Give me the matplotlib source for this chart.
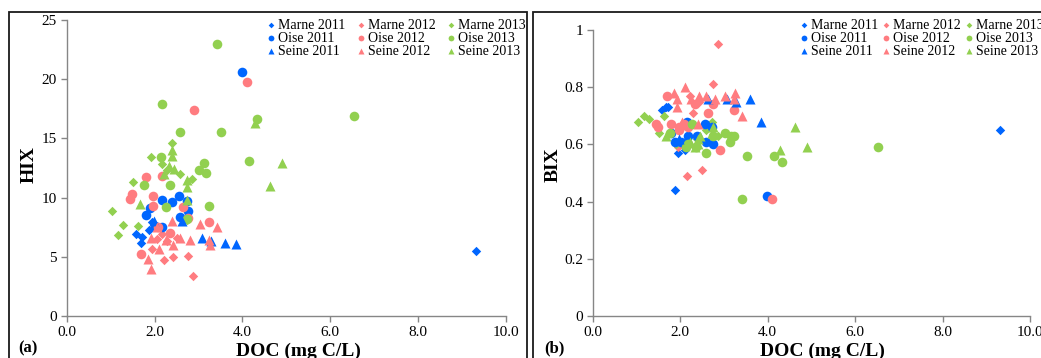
import matplotlib
matplotlib.use("Agg")
import matplotlib.pyplot as plt
from matplotlib.patches import Rectangle
from matplotlib.ticker import FuncFormatter

plt.rcParams['font.family'] = ['Liberation Serif', 'DejaVu Serif']

# ---------------- data (DOC in mg C/L, HIX, BIX) ----------------
marne11_doc = [1.58, 1.68, 1.72, 1.88, 1.95, 2.12, 9.32]
marne11_hix = [6.9, 6.2, 6.7, 7.3, 7.9, 7.5, 5.5]
marne11_bix = [0.72, 0.73, 0.73, 0.44, 0.57, 0.58, 0.65]

oise11_doc = [1.80, 1.89, 2.02, 2.16, 2.18, 2.39, 2.56, 2.58, 2.73, 2.75, 3.99]
oise11_hix = [8.5, 9.1, 7.6, 9.8, 7.5, 9.6, 10.1, 8.4, 9.7, 8.9, 20.6]
oise11_bix = [0.64, 0.61, 0.61, 0.68, 0.63, 0.63, 0.67, 0.61, 0.66, 0.60, 0.42]

seine11_doc = [1.98, 2.63, 3.08, 3.28, 3.60, 3.86]
seine11_hix = [8.0, 8.0, 6.6, 6.3, 6.2, 6.1]
seine11_bix = [0.62, 0.76, 0.76, 0.75, 0.76, 0.68]

marne12_doc = [1.95, 2.05, 2.16, 2.22, 2.29, 2.42, 2.50, 2.75, 2.87]
marne12_hix = [5.7, 6.5, 6.9, 4.7, 6.3, 5.0, 6.6, 5.1, 3.4]
marne12_bix = [0.59, 0.66, 0.49, 0.77, 0.71, 0.75, 0.51, 0.81, 0.95]

oise12_doc = [1.45, 1.49, 1.69, 1.80, 1.97, 1.97, 2.08, 2.17, 2.35, 2.64, 2.75, 2.90, 3.24, 4.11]
oise12_hix = [9.9, 10.3, 5.2, 11.7, 10.1, 9.3, 7.5, 11.8, 7.0, 9.2, 8.3, 17.4, 7.9, 19.8]
oise12_bix = [0.67, 0.66, 0.77, 0.67, 0.66, 0.65, 0.67, 0.66, 0.74, 0.71, 0.74, 0.58, 0.72, 0.41]

seine12_doc = [1.86, 1.92, 1.93, 2.05, 2.11, 2.25, 2.40, 2.42, 2.58, 2.80, 3.03, 3.24, 3.26, 3.41]
seine12_hix = [4.8, 4.0, 6.6, 7.5, 5.7, 6.4, 8.0, 6.0, 6.6, 6.4, 7.8, 6.4, 6.0, 7.5]
seine12_bix = [0.78, 0.73, 0.76, 0.68, 0.80, 0.76, 0.67, 0.77, 0.77, 0.76, 0.77, 0.76, 0.78, 0.70]

marne13_doc = [1.04, 1.17, 1.29, 1.52, 1.63, 1.91, 2.16, 2.28, 2.39, 2.58, 2.73, 2.86]
marne13_hix = [8.9, 6.8, 7.7, 11.3, 7.6, 13.4, 12.8, 12.3, 14.6, 12.0, 8.1, 11.6]
marne13_bix = [0.68, 0.70, 0.69, 0.64, 0.70, 0.60, 0.61, 0.67, 0.62, 0.65, 0.68, 0.63]

oise13_doc = [1.76, 2.14, 2.17, 2.26, 2.36, 2.58, 2.74, 3.02, 3.13, 3.16, 3.24, 3.41, 3.52, 4.14, 4.33, 6.53]
oise13_hix = [11.1, 13.4, 17.9, 9.2, 11.1, 15.5, 8.2, 12.3, 12.9, 12.1, 9.3, 23.0, 15.5, 13.1, 16.6, 16.9]
oise13_bix = [0.64, 0.59, 0.60, 0.67, 0.59, 0.57, 0.63, 0.64, 0.61, 0.63, 0.63, 0.41, 0.56, 0.56, 0.54, 0.59]

seine13_doc = [1.67, 2.22, 2.33, 2.40, 2.40, 2.45, 2.73, 2.74, 2.74, 4.28, 4.62, 4.90]
seine13_hix = [9.5, 12.0, 12.7, 13.5, 14.0, 12.4, 9.8, 10.9, 11.5, 16.3, 11.0, 12.9]
seine13_bix = [0.63, 0.61, 0.59, 0.60, 0.62, 0.63, 0.64, 0.66, 0.64, 0.58, 0.66, 0.59]

series_labels = ['Marne 2011', 'Marne 2012', 'Marne 2013',
                 'Oise 2011', 'Oise 2012', 'Oise 2013',
                 'Seine 2011', 'Seine 2012', 'Seine 2013']

# ---------------- styles ----------------
BLUE, PINK, GREEN = '#0066FF', '#FF7C80', '#92D050'
series = [
    (marne11_doc, marne11_hix, marne11_bix, BLUE, 'D', 23),
    (marne12_doc, marne12_hix, marne12_bix, PINK, 'D', 23),
    (marne13_doc, marne13_hix, marne13_bix, GREEN, 'D', 23),
    (oise11_doc, oise11_hix, oise11_bix, BLUE, 'o', 48),
    (oise12_doc, oise12_hix, oise12_bix, PINK, 'o', 48),
    (oise13_doc, oise13_hix, oise13_bix, GREEN, 'o', 48),
    (seine11_doc, seine11_hix, seine11_bix, BLUE, '^', 52),
    (seine12_doc, seine12_hix, seine12_bix, PINK, '^', 52),
    (seine13_doc, seine13_hix, seine13_bix, GREEN, '^', 52),
]

W, H = 1041, 358
fig = plt.figure(figsize=(W / 100, H / 100), dpi=100)

ax1 = fig.add_axes([66.7 / W, (H - 316) / H, (506 - 66.7) / W, (316 - 20) / H])
ax2 = fig.add_axes([592.7 / W, (H - 316) / H, (1030 - 592.7) / W, (316 - 30) / H])

GRAY = '#868686'


def style(ax, ylim, yticks, yfmt):
    ax.set_xlim(0, 10)
    ax.set_ylim(*ylim)
    ax.set_xticks([0, 2, 4, 6, 8, 10])
    ax.set_yticks(yticks)
    ax.xaxis.set_major_formatter(FuncFormatter(lambda v, p: f'{v:.1f}'))
    ax.yaxis.set_major_formatter(FuncFormatter(yfmt))
    for s in ['top', 'right']:
        ax.spines[s].set_visible(False)
    for s in ['left', 'bottom']:
        ax.spines[s].set_color(GRAY)
        ax.spines[s].set_linewidth(1.0)
    ax.tick_params(direction='out', length=4, width=1.0, color=GRAY,
                   labelsize=11, labelcolor='black', pad=3)
    ax.patch.set_alpha(0)


style(ax1, (0, 25), [0, 5, 10, 15, 20, 25], lambda v, p: f'{v:g}')
style(ax2, (0, 1), [0, 0.2, 0.4, 0.6, 0.8, 1.0], lambda v, p: f'{v:g}')

handles = {}
for (doc, hix, bix, col, mk, s), lab in zip(series, series_labels):
    h = ax1.scatter(doc, hix, s=s, marker=mk, color=col, linewidths=0, label=lab, zorder=3)
    ax2.scatter(doc, bix, s=s, marker=mk, color=col, linewidths=0, label=lab, zorder=3)
    handles[lab] = h

order = ['Marne 2011', 'Oise 2011', 'Seine 2011',
         'Marne 2012', 'Oise 2012', 'Seine 2012',
         'Marne 2013', 'Oise 2013', 'Seine 2013']


def add_legend(ax, x0, y0, colsp):
    ax.legend([handles[k] for k in order], order, ncol=3, loc='upper left',
              bbox_to_anchor=(x0 / W, 1 - y0 / H), bbox_transform=fig.transFigure,
              frameon=False, borderpad=0, borderaxespad=0, fontsize=10,
              handlelength=0.5, handletextpad=0.25, columnspacing=colsp,
              labelspacing=0.0, markerscale=0.6)


add_legend(ax1, 268, 19, 0.85)
add_legend(ax2, 801, 19, 0.3)

# panel frames
fig.patches.append(Rectangle((9 / W, -0.2), (527 - 9) / W, 0.2 + 1 - 12 / H,
                             transform=fig.transFigure, fill=False,
                             edgecolor='#1a1a1a', linewidth=1.3, clip_on=False))
fig.patches.append(Rectangle((533 / W, -0.2), (1100 - 533) / W, 0.2 + 1 - 12 / H,
                             transform=fig.transFigure, fill=False,
                             edgecolor='#1a1a1a', linewidth=1.3, clip_on=False))

lab_kw = dict(fontsize=14, fontweight='bold')
fig.text(29 / W, 1 - 165 / H, 'HIX', rotation=90, ha='center', va='center', **lab_kw)
fig.text(553 / W, 1 - 165 / H, 'BIX', rotation=90, ha='center', va='center', **lab_kw)
fig.text(298 / W, 1 - 351 / H, 'DOC (mg C/L)', ha='center', va='center', **lab_kw)
fig.text(822 / W, 1 - 351 / H, 'DOC (mg C/L)', ha='center', va='center', **lab_kw)
fig.text(18 / W, 1 - 348 / H, '(a)', ha='left', va='center', fontsize=12, fontweight='bold')
fig.text(544 / W, 1 - 348 / H, '(b)', ha='left', va='center', fontsize=12, fontweight='bold')

fig.savefig('out.png', dpi=100)
